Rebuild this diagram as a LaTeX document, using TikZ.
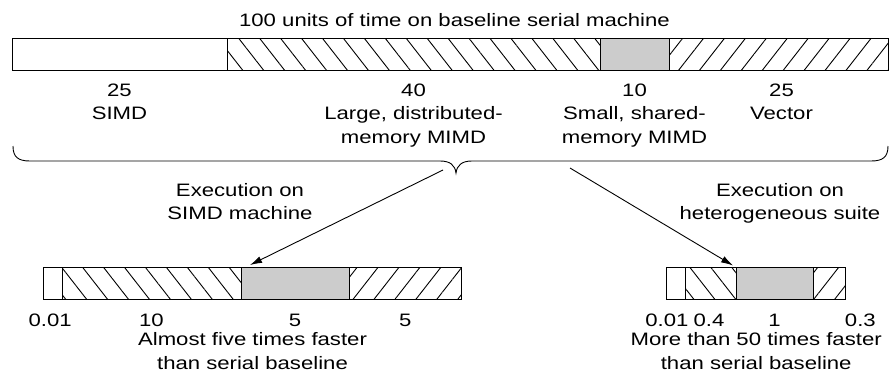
\documentclass[tikz,border=0pt]{standalone}
\usepackage{fontspec}
\setmainfont[FakeStretch=1.23]{Liberation Sans}
\usetikzlibrary{positioning,calc,patterns.meta,arrows.meta}
\definecolor{cellgray}{gray}{0.8}

\begin{document}
\begin{tikzpicture}
  [x=1pt, y=1pt,
   line width=0.9pt,
   segment/.style={
     draw,
     rectangle,
     minimum width=#1,
     minimum height=32pt,
     inner sep=0pt,
     outer sep=0pt
     },
   hatchnw/.style={pattern={Lines[angle=-52,distance=16.5pt,line width=0.9pt]}},
   hatchne/.style={pattern={Lines[angle=52,distance=16.5pt,line width=0.9pt]}},
   shared/.style={fill=cellgray},
   txt/.style={
     align=center,
     inner sep=0pt,
     font=\fontsize{18pt}{23.5pt}\selectfont
     },
   flow/.style={-{Latex[length=12pt,width=7pt]}}
  ]
  \useasboundingbox (0,0) rectangle (889,376);

  % barra seriale
  \node[txt, anchor=base] (serialtitle) at (454.5,350) {100 units of time on baseline serial machine};
  \node[segment=215pt, anchor=west] (serialsimd) at (12,322) {};
  \node[segment=373pt, hatchnw, right=0pt of serialsimd] (serialdist) {};
  \node[segment=69pt, shared, right=0pt of serialdist] (serialshared) {};
  \node[segment=219pt, hatchne, right=0pt of serialshared] (serialvector) {};

  \node[txt, below=13pt of serialsimd] (serialsimdtext) {25\\SIMD};
  \node[txt, below=13pt of serialdist] (serialdisttext) {40\\Large, distributed-\\memory MIMD};
  \node[txt, below=13pt of serialshared] (serialsharedtext) {10\\Small, shared-\\memory MIMD};
  \node[txt, below=13pt of serialvector, xshift=3pt] (serialvectortext) {25\\Vector};

  % graffa
  \draw (13,230) .. controls (13,219) and (18,215) .. (30,215) -- (440,215)
    .. controls (450,215) and (455,211) .. (456,203)
    .. controls (457,211) and (462,215) .. (472,215) -- (871,215)
    .. controls (883,215) and (888,219) .. (888,230);
  \coordinate (fromsimd) at (443,206);
  \coordinate (fromhetero) at (570,208);

  % esecuzione SIMD
  \node[txt, anchor=north] (simdexec) at (240,193) {Execution on\\SIMD machine};
  \node[segment=18.7pt, anchor=west] (simdserial) at (43.3,92.5) {};
  \node[segment=179pt, hatchnw, right=0pt of simdserial] (simddist) {};
  \node[segment=108pt, shared, right=0pt of simddist] (simdshared) {};
  \node[segment=112.7pt, hatchne, right=0pt of simdshared] (simdvector) {};

  \node[txt, below=14pt of simdserial, xshift=-2.5pt] {0.01};
  \node[txt, below=14pt of simddist] {10};
  \node[txt, below=14pt of simdshared] {5};
  \node[txt, below=14pt of simdvector] {5};
  \node[txt, anchor=north] (simdresult) at ($(simdserial.south west)!.5!(simdvector.south east)+(0,-32.7)$)
    {Almost five times faster\\than serial baseline};

  % esecuzione eterogenea
  \node[txt, anchor=north] (heteroexec) at (780,193) {Execution on\\heterogeneous suite};
  \node[segment=18.3pt, anchor=west] (heteroserial) at (666.7,92.5) {};
  \node[segment=51pt, hatchnw, right=0pt of heteroserial] (heterodist) {};
  \node[segment=77pt, shared, right=0pt of heterodist] (heteroshared) {};
  \node[segment=32.7pt, hatchne, right=0pt of heteroshared] (heterovector) {};

  \node[txt, below=14pt of heteroserial, xshift=-9pt] {0.01};
  \node[txt, below=14pt of heterodist, xshift=-1.5pt] {0.4};
  \node[txt, below=14pt of heteroshared] {1};
  \node[txt, below=14pt of heterovector, xshift=31pt] {0.3};
  \node[txt, anchor=north] (heteroresult) at ($(heteroserial.south west)!.5!(heterovector.south east)+(0,-32.7)$)
    {More than 50 times faster\\than serial baseline};

  \draw[flow] (fromsimd) -- ([xshift=9pt,yshift=2.5pt]simdshared.north west);
  \draw[flow] (fromhetero) -- ([xshift=-3pt,yshift=2pt]heteroshared.north west);
\end{tikzpicture}
\end{document}
